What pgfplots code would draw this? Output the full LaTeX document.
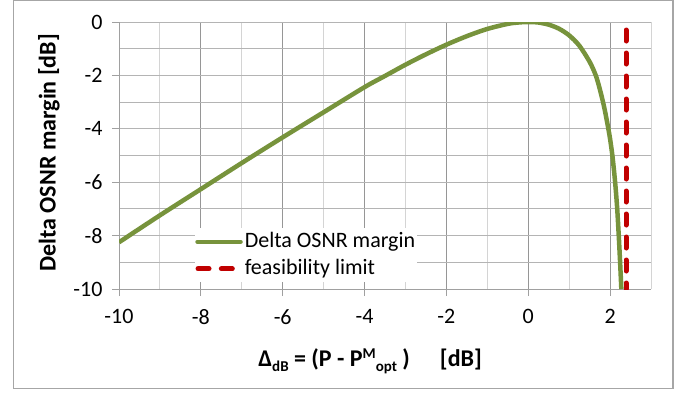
\documentclass[border=0pt]{standalone}
\usepackage{pgfplots}
\pgfplotsset{compat=1.18}
\usepackage{fontspec}
\setmainfont{Carlito}
\definecolor{olivegreen}{RGB}{119,147,60}
\definecolor{darkred}{RGB}{192,0,0}
\definecolor{framegray}{RGB}{166,166,166}
\definecolor{axisgray}{RGB}{160,160,160}
\definecolor{majxgray}{RGB}{150,150,150}
\definecolor{minxgray}{RGB}{212,212,212}
\definecolor{ygray}{RGB}{180,180,180}
\begin{document}
\begin{tikzpicture}[x=1pt,y=1pt]
\useasboundingbox (0,0) rectangle (687,392);
\draw[framegray, line width=1.2pt] (13.5,3.5) rectangle (673,391.4);
\begin{axis}[
  at={(119pt,103pt)}, anchor=south west,
  scale only axis, width=532pt, height=267pt,
  xmin=-10, xmax=3, ymin=-10, ymax=0,
  xtick={-10,-8,-6,-4,-2,0,2},
  ytick={-10,-8,-6,-4,-2,0},
  xticklabels={-10,-8,-6,-4,-2,0,2},
  yticklabels={-10,-8,-6,-4,-2,0},
  minor xtick={-9,-7,-5,-3,-1,1,3},
  minor ytick={-9,-7,-5,-3,-1},
  grid=both,
  major x grid style={majxgray, line width=1pt},
  minor x grid style={minxgray, line width=1pt},
  major y grid style={ygray, line width=1pt},
  minor y grid style={ygray, line width=1pt},
  axis x line*=bottom, axis y line*=left,
  axis line style={axisgray, line width=1pt},
  tick align=outside, major tick length=7pt, minor tick length=0pt,
  tick style={axisgray, line width=1pt},
  ticklabel style={font=\fontsize{22}{26}\selectfont},
  xticklabel style={yshift=-10pt},
  yticklabel style={xshift=-6pt},
  xlabel={\bfseries Δ\raisebox{-5pt}{\fontsize{15}{15}\selectfont dB} = (P - P\raisebox{8.5pt}{\fontsize{15}{15}\selectfont M}\raisebox{-5pt}{\fontsize{15}{15}\selectfont opt} )\hspace{30pt}[dB]},
  xlabel style={font=\fontsize{24}{28}\selectfont, at={(axis description cs:0.472,-0.292)}, anchor=base},
  ylabel={\bfseries Delta OSNR margin [dB]},
  ylabel style={font=\fontsize{24}{28}\selectfont, at={(axis description cs:-0.119,0.51)}, anchor=base, rotate=0},
  legend cell align=left,
  legend style={at={(axis description cs:0.143,0.228)}, anchor=north west,
    draw=none, fill=white, inner sep=0pt, row sep=0pt,
    font=\fontsize{22}{26}\selectfont,
    nodes={inner ysep=3pt, text height=16pt, text depth=5pt}},
]
\addplot[olivegreen, line width=4.5pt, smooth,
  legend image code/.code={\draw[olivegreen, line width=4.5pt, line cap=round] (2pt,0pt) -- (45pt,0pt);}] coordinates {
(-10,-8.25) (-9,-7.24) (-8,-6.26) (-7,-5.28) (-6,-4.32) (-5,-3.38)
(-4,-2.44) (-3.5,-2.02) (-3,-1.60) (-2.5,-1.21) (-2,-0.85) (-1.5,-0.53)
(-1,-0.26) (-0.5,-0.07) (-0.25,-0.02) (0,0) (0.25,-0.02) (0.5,-0.10)
(0.75,-0.25) (1,-0.50) (1.25,-0.89) (1.5,-1.49) (1.65,-2.0)
(1.75,-2.52) (1.85,-3.15) (1.94,-3.85) (2.0,-4.38) (2.06,-5.05)
(2.12,-5.95) (2.17,-6.9) (2.21,-7.95) (2.245,-9.0) (2.275,-10)
};
\addlegendentry{Delta OSNR margin}
\addplot[darkred, line width=5pt, line cap=round, dash pattern=on 11pt off 12pt,
  legend image code/.code={\draw[darkred, line width=5pt, line cap=round] (2.5pt,0pt) -- (15.8pt,0pt) (25.8pt,0pt) -- (39pt,0pt);}] coordinates {(2.39,-0.3) (2.39,-10)};
\addlegendentry{feasibility limit}
\end{axis}
\end{tikzpicture}
\end{document}
